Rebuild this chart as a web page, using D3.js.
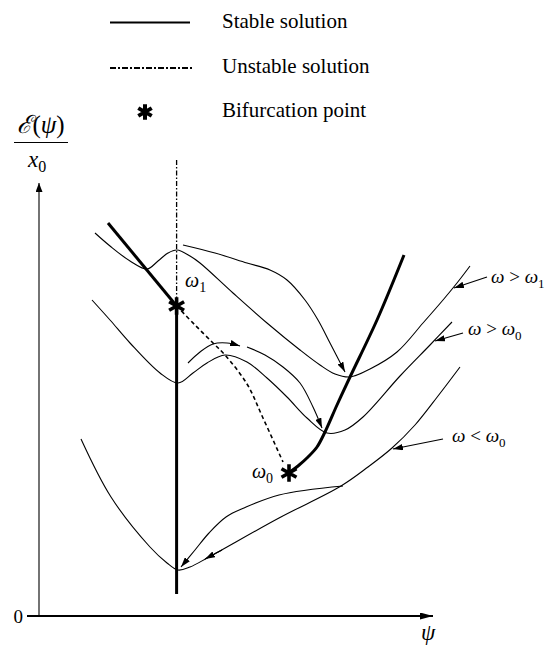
<!DOCTYPE html>
<html><head><meta charset="utf-8">
<script src="https://cdn.jsdelivr.net/npm/d3@7"></script>
<style>
body{margin:0;background:#fff;}
svg text{font-family:"Liberation Serif","Times New Roman",serif;fill:#000;}
</style></head><body>
<svg id="chart" width="548" height="645"></svg>
<script>
// ---- data (ψ on x, ℰ(ψ)/x0 on y, arbitrary units) ----
const curveAbove = [[14,95.75],[17.75,92.5],[22.75,88.75],[27,86.75],[29.75,88.75],[32.25,90.75],[34.5,91.5],[37.75,90],[40.25,88.25],[48.5,80.75],[57,73.25],[65.25,66.5],[70.25,62.75],[74,60.5],[77.75,59.75],[82.75,61.75],[89.5,66],[96,73.25],[101,79],[104.5,83.25],[107.75,87.5]];
const curveMid = [[13.25,79],[17.75,74],[22.75,68.25],[30.25,60.75],[34.75,58.25],[38.5,60.75],[42,63.25],[46.5,65.25],[52,63.5],[57,59.5],[62,54.75],[67,49.5],[72,45.75],[76.5,46.5],[81,49.75],[90.25,60],[97.75,67.75],[103.25,73.5]];
const curveBelow = [[10.5,44.25],[18,29.75],[27.75,17.25],[32,13.25],[34.75,11.5],[37.75,12.25],[42.5,14.75],[60,24.5],[75.5,32.5],[82.25,37.25],[88.25,42],[94,47.75],[99.75,55],[105.25,62.25]];

const stableUpper = [[17.25,98.25],[34.4,77.5]];
const stableVertical = [[34.4,77.5],[34.4,5.5]];
const stableRight = [[62.75,36],[64.75,37.5],[67.25,39.75],[69.5,42.25],[71.5,46],[74.5,52.75],[77.75,59.75],[84.5,74],[91.25,90.25]];
const unstableVertical = [[34.4,114],[34.4,77.5]];
const unstableBranch = [[34.4,77.5],[39,72.75],[43.5,68.25],[46.5,65.25],[52,58],[56,49.5],[61,38.5]];

const flowArrows = [
  [[36,92.75],[44,90.75],[52,88.25],[57.75,86.5],[62,84],[66.5,79],[69.75,74],[72.75,68.25],[76.5,61]],
  [[37.25,63.25],[40.25,66],[43.5,68],[47,68.25],[50.25,67.5]],
  [[52,67.25],[56.5,65.25],[61,62.25],[65.25,58.25],[68.5,52.25],[70.75,47]],
  [[76,32.5],[60,30.25],[51.25,27],[46.75,24.75],[42.5,20.75],[39,16.5],[35.5,12.25]],
  [[45.75,16.5],[41.5,14.25]]
];

const bifurcationPoints = [
  {name:"ω", sub:"1", at:[34.4,77.5], label:[36.5,82.25], anchor:"start"},
  {name:"ω", sub:"0", at:[62.5,35.75], label:[58.5,34.5], anchor:"end"}
];

const curveLabels = [
  {rel:">", sub:"1", text:[113,83.25], from:[112,84.75], to:[103.75,82]},
  {rel:">", sub:"0", text:[107.25,70.25], from:[106,70.75], to:[99,68.75]},
  {rel:"<", sub:"0", text:[103.25,43.5], from:[101,44.25], to:[88.5,41.75]}
];

const legendItems = [
  {label:"Stable solution", kind:"solid"},
  {label:"Unstable solution", kind:"dashed"},
  {label:"Bifurcation point", kind:"star"}
];
const yTicks = [0];

// ---- drawing ----
const svg = d3.select("#chart");
const x = d3.scaleLinear().domain([-3, 98.5]).range([27, 433]);
const y = d3.scaleLinear().domain([0, 108.25]).range([616, 183]);

const defs = svg.append("defs");
function marker(id, len, half){
  defs.append("marker").attr("id",id)
    .attr("viewBox",`0 ${-half} ${len} ${2*half}`)
    .attr("refX",len).attr("refY",0)
    .attr("markerWidth",len).attr("markerHeight",2*half)
    .attr("markerUnits","userSpaceOnUse").attr("orient","auto")
    .append("path").attr("d",`M0,${-half}L${len},0L0,${half}Z`).attr("fill","#000");
}
marker("axY", 9, 3.5);
marker("axX", 13, 3.5);
marker("flow", 10, 3.2);

const smooth = d3.line().x(d=>x(d[0])).y(d=>y(d[1])).curve(d3.curveCatmullRom.alpha(0.5));
const straight = d3.line().x(d=>x(d[0])).y(d=>y(d[1]));

// axes
svg.append("path").attr("d", straight([[0,0],[0,108.25]]))
  .attr("stroke","#000").attr("stroke-width",1.1).attr("fill","none").attr("marker-end","url(#axY)");
svg.append("path").attr("d", straight([[-3,0],[98.5,0]]))
  .attr("stroke","#000").attr("stroke-width",2).attr("fill","none").attr("marker-end","url(#axX)");
const yAxisG = svg.append("g").attr("transform",`translate(${x(0)},0)`)
  .call(d3.axisLeft(y).tickValues(yTicks).tickSize(0).tickPadding(16).tickFormat(d3.format("d")));
yAxisG.select(".domain").remove();
yAxisG.selectAll("text").attr("font-size",19).attr("dy","0.32em");

svg.append("text").attr("x",421).attr("y",640).attr("font-size",23).attr("font-style","italic").text("ψ");

// y label fraction
svg.append("text").attr("x",41).attr("y",133).attr("text-anchor","middle").attr("font-size",25)
  .html('<tspan style="font-family:\'DejaVu Serif\'" font-style="italic" font-size="25">ℰ</tspan>(<tspan font-style="italic">ψ</tspan>)');
svg.append("line").attr("x1",14).attr("x2",68).attr("y1",142.5).attr("y2",142.5).attr("stroke","#000").attr("stroke-width",1.2);
svg.append("text").attr("x",28).attr("y",167).attr("font-size",23)
  .html('<tspan font-style="italic">x</tspan><tspan font-size="16" dy="5">0</tspan>');

// curves
[curveAbove, curveMid, curveBelow].forEach(c=>{
  svg.append("path").attr("d", smooth(c)).attr("fill","none").attr("stroke","#000").attr("stroke-width",1.1);
});
flowArrows.forEach(c=>{
  svg.append("path").attr("d", smooth(c)).attr("fill","none").attr("stroke","#000").attr("stroke-width",1.1).attr("marker-end","url(#flow)");
});

// stable / unstable branches
svg.append("path").attr("d", straight(unstableVertical)).attr("fill","none").attr("stroke","#000")
  .attr("stroke-width",1.3).attr("stroke-dasharray","5,2,1.5,2");
svg.append("path").attr("d", smooth(unstableBranch)).attr("fill","none").attr("stroke","#000")
  .attr("stroke-width",1.6).attr("stroke-dasharray","4,3");
[stableUpper, stableVertical].forEach(c=>{
  svg.append("path").attr("d", straight(c)).attr("fill","none").attr("stroke","#000").attr("stroke-width",3);
});
svg.append("path").attr("d", smooth(stableRight)).attr("fill","none").attr("stroke","#000").attr("stroke-width",3);

// bifurcation stars
const star = d3.symbol().type(d3.symbolAsterisk).size(210);
bifurcationPoints.forEach(b=>{
  svg.append("path").attr("d", star()).attr("transform",`translate(${x(b.at[0])},${y(b.at[1])})`)
    .attr("fill","none").attr("stroke","#000").attr("stroke-width",3.6);
  svg.append("text").attr("x",x(b.label[0])).attr("y",y(b.label[1])).attr("font-size",20).attr("text-anchor",b.anchor)
    .html(`<tspan font-style="italic">${b.name}</tspan><tspan font-size="14" dy="5">${b.sub}</tspan>`);
});

// curve labels with arrows
curveLabels.forEach(l=>{
  svg.append("path").attr("d", straight([l.from,l.to])).attr("stroke","#000").attr("stroke-width",1.2).attr("marker-end","url(#flow)");
  svg.append("text").attr("x",x(l.text[0])).attr("y",y(l.text[1])).attr("font-size",19)
    .html(`<tspan font-style="italic">ω</tspan> ${l.rel==="<"?"&lt;":"&gt;"} <tspan font-style="italic">ω</tspan><tspan font-size="13" dy="5">${l.sub}</tspan>`);
});

// legend
const legendRows = [22.5, 68, 112];
legendItems.forEach((it,i)=>{
  const yy = legendRows[i];
  if(it.kind==="solid"){
    svg.append("line").attr("x1",110).attr("x2",190).attr("y1",yy).attr("y2",yy).attr("stroke","#000").attr("stroke-width",2.2);
  } else if(it.kind==="dashed"){
    svg.append("line").attr("x1",110).attr("x2",193).attr("y1",yy).attr("y2",yy).attr("stroke","#000").attr("stroke-width",2).attr("stroke-dasharray","6,2,2,2");
  } else {
    svg.append("path").attr("d", d3.symbol().type(d3.symbolAsterisk).size(170)()).attr("transform",`translate(145,${yy})`)
      .attr("fill","none").attr("stroke","#000").attr("stroke-width",4);
  }
  svg.append("text").attr("x",222).attr("y",yy+5).attr("font-size",21).text(it.label);
});
</script></body></html>
